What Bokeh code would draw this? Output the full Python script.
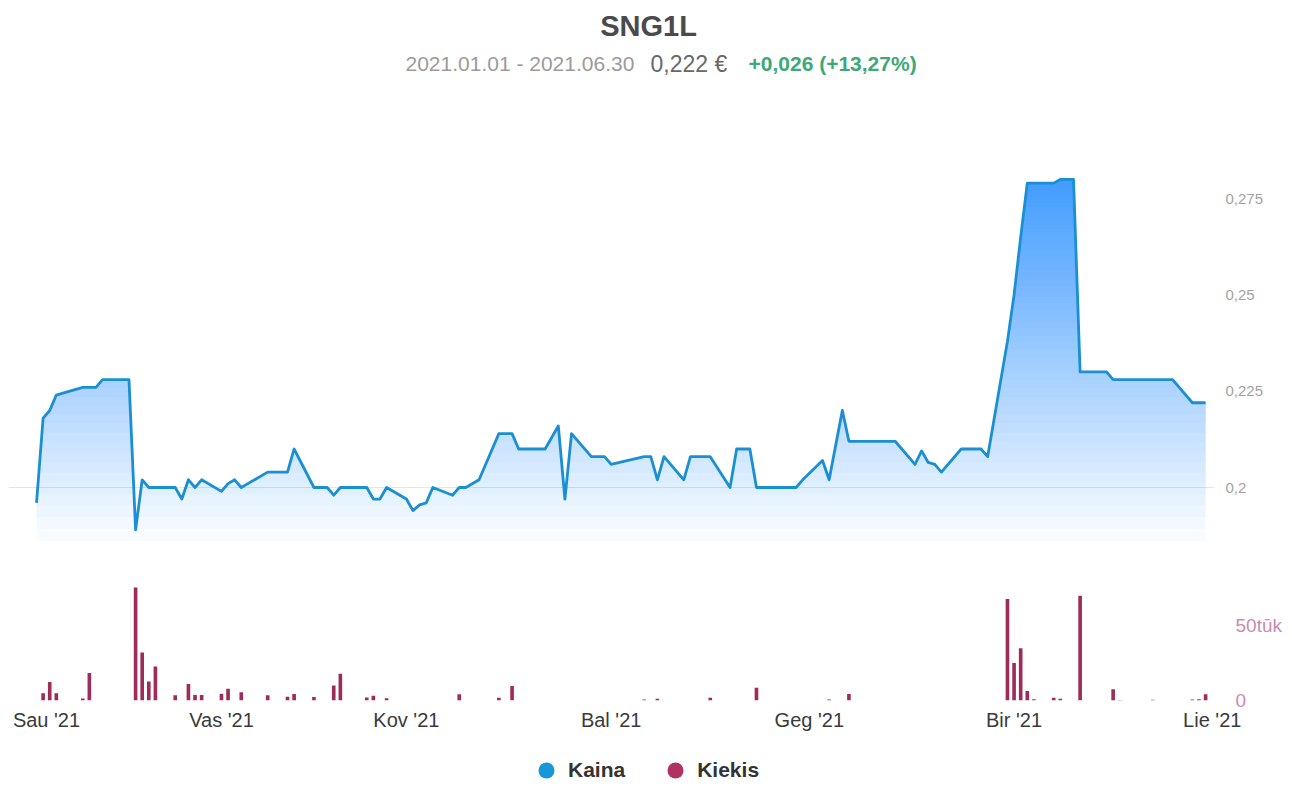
import pandas as pd
from bokeh.plotting import figure
from bokeh.layouts import column
from bokeh.models import Range1d, FixedTicker, Label, Legend, LegendItem
from bokeh.embed import file_html
from bokeh.resources import INLINE

# ---------------- data ----------------
title_text = "SNG1L"
period_text = "2021.01.01 - 2021.06.30"
last_price_text = "0,222 €"
change_text = "+0,026 (+13,27%)"

price_dates = [
    "2021-01-04", "2021-01-05", "2021-01-06", "2021-01-07", "2021-01-08",
    "2021-01-11", "2021-01-12", "2021-01-13", "2021-01-14", "2021-01-15",
    "2021-01-18", "2021-01-19", "2021-01-20", "2021-01-21", "2021-01-22",
    "2021-01-25", "2021-01-26", "2021-01-27", "2021-01-28", "2021-01-29",
    "2021-02-01", "2021-02-02", "2021-02-03", "2021-02-04", "2021-02-05",
    "2021-02-08", "2021-02-09", "2021-02-10", "2021-02-11", "2021-02-12",
    "2021-02-15", "2021-02-17", "2021-02-18", "2021-02-19",
    "2021-02-22", "2021-02-23", "2021-02-24", "2021-02-25", "2021-02-26",
    "2021-03-01", "2021-03-02", "2021-03-03", "2021-03-04", "2021-03-05",
    "2021-03-08", "2021-03-09", "2021-03-10", "2021-03-12",
    "2021-03-15", "2021-03-16", "2021-03-17", "2021-03-18", "2021-03-19",
    "2021-03-22", "2021-03-23", "2021-03-24", "2021-03-25", "2021-03-26",
    "2021-03-29", "2021-03-30", "2021-03-31", "2021-04-01",
    "2021-04-06", "2021-04-07", "2021-04-08", "2021-04-09",
    "2021-04-12", "2021-04-13", "2021-04-14", "2021-04-15", "2021-04-16",
    "2021-04-19", "2021-04-20", "2021-04-21", "2021-04-22", "2021-04-23",
    "2021-04-26", "2021-04-27", "2021-04-28", "2021-04-29", "2021-04-30",
    "2021-05-03", "2021-05-04", "2021-05-05", "2021-05-06", "2021-05-07",
    "2021-05-10", "2021-05-11", "2021-05-12", "2021-05-13", "2021-05-14",
    "2021-05-17", "2021-05-18", "2021-05-19", "2021-05-20", "2021-05-21",
    "2021-05-24", "2021-05-25", "2021-05-26", "2021-05-27", "2021-05-28",
    "2021-05-31", "2021-06-01", "2021-06-02", "2021-06-03", "2021-06-04",
    "2021-06-07", "2021-06-08", "2021-06-09", "2021-06-10", "2021-06-11",
    "2021-06-14", "2021-06-15", "2021-06-16", "2021-06-17", "2021-06-18",
    "2021-06-21", "2021-06-22", "2021-06-23", "2021-06-25",
    "2021-06-28", "2021-06-29", "2021-06-30",
]
price = [
    0.196, 0.218, 0.220, 0.224, 0.2245,
    0.226, 0.226, 0.226, 0.228, 0.228,
    0.228, 0.189, 0.202, 0.200, 0.200,
    0.200, 0.197, 0.202, 0.200, 0.202,
    0.199, 0.201, 0.202, 0.200, 0.201,
    0.204, 0.204, 0.204, 0.204, 0.210,
    0.200, 0.200, 0.198, 0.200,
    0.200, 0.200, 0.197, 0.197, 0.200,
    0.197, 0.194, 0.1955, 0.196, 0.200,
    0.198, 0.200, 0.200, 0.202,
    0.214, 0.214, 0.214, 0.210, 0.210,
    0.210, 0.213, 0.216, 0.197, 0.214,
    0.208, 0.208, 0.208, 0.206,
    0.208, 0.208, 0.202, 0.208,
    0.202, 0.208, 0.208, 0.208, 0.208,
    0.200, 0.210, 0.210, 0.210, 0.200,
    0.200, 0.200, 0.200, 0.200, 0.202,
    0.207, 0.202, 0.211, 0.220, 0.212,
    0.212, 0.212, 0.212, 0.212, 0.212,
    0.206, 0.2095, 0.2065, 0.206, 0.204,
    0.210, 0.210, 0.210, 0.210, 0.208,
    0.238, 0.250, 0.265, 0.279, 0.279,
    0.279, 0.280, 0.280, 0.280, 0.230,
    0.230, 0.230, 0.228, 0.228, 0.228,
    0.228, 0.228, 0.228, 0.228,
    0.222, 0.222, 0.222,
]

volume_dates = [
    "2021-01-05", "2021-01-06", "2021-01-07", "2021-01-11", "2021-01-12",
    "2021-01-19", "2021-01-20", "2021-01-21", "2021-01-22", "2021-01-25",
    "2021-01-27", "2021-01-28", "2021-01-29", "2021-02-01", "2021-02-02",
    "2021-02-04", "2021-02-08", "2021-02-11", "2021-02-12", "2021-02-15",
    "2021-02-18", "2021-02-19", "2021-02-23", "2021-02-24", "2021-02-26",
    "2021-03-09", "2021-03-15", "2021-03-17", "2021-04-06", "2021-04-08",
    "2021-04-16", "2021-04-23", "2021-05-04", "2021-05-07", "2021-05-31",
    "2021-06-01", "2021-06-02", "2021-06-03", "2021-06-04", "2021-06-07",
    "2021-06-08", "2021-06-11", "2021-06-16", "2021-06-17", "2021-06-22",
    "2021-06-28", "2021-06-29", "2021-06-30",
]
volume = [
    4800, 12400, 4900, 1300, 18300,
    75300, 32000, 12700, 22700, 3500,
    11000, 3700, 3700, 4500, 7900,
    5500, 3500, 2500, 4400, 2300,
    10000, 17900, 2000, 3100, 1500,
    4200, 1800, 9700, 700, 1100,
    1900, 8500, 700, 4300, 67600,
    25000, 34800, 6300, 800, 1900,
    1200, 69900, 7500, 400, 500,
    600, 900, 4100,
]

month_starts = ["2021-01-01", "2021-02-01", "2021-03-01", "2021-04-01",
                "2021-05-01", "2021-06-01", "2021-07-01"]
month_labels = ["Sau '21", "Vas '21", "Kov '21", "Bal '21", "Geg '21", "Bir '21", "Lie '21"]
price_ticks = [0.2, 0.225, 0.25, 0.275]
price_tick_labels = ["0,2", "0,225", "0,25", "0,275"]
volume_ticks = [0, 50000]
volume_tick_labels = ["0", "50tūk"]
series_names = ["Kaina", "Kiekis"]

# ---------------- helpers ----------------
T0 = pd.Timestamp("2021-01-01")


def to_days(dates):
    return [float((pd.Timestamp(d) - T0).days) for d in dates]


def clip_above(xs, ys, t):
    """Outline of max(y, t) along the price line, with crossing points added."""
    ox, oy = [], []
    for i in range(len(xs)):
        if i > 0:
            y0, y1 = ys[i - 1], ys[i]
            if (y0 - t) * (y1 - t) < 0:
                f = (t - y0) / (y1 - y0)
                ox.append(xs[i - 1] + f * (xs[i] - xs[i - 1]))
                oy.append(t)
        ox.append(xs[i])
        oy.append(max(ys[i], t))
    return ox, oy


FONT = "Liberation Sans"
LINE_BLUE = "#1a8fd3"
FILL_BLUE = "#2a9cf0"
VOL_RED = "#9e2c5b"

W = 1290
LEFT, RIGHT = 8, 76            # frame spans page x 8 .. 1214
PX_PER_DAY = 6.605
x_range = Range1d(-1.2415, 181.345)

px = to_days(price_dates)
vx = to_days(volume_dates)

# ---------------- header ----------------
HEAD_H = 93
head = figure(width=W, height=HEAD_H, x_range=Range1d(LEFT, W - RIGHT), y_range=Range1d(0, HEAD_H),
              output_backend="svg", toolbar_location=None,
              x_axis_location=None, y_axis_location=None,
              min_border_left=LEFT, min_border_right=RIGHT, min_border_top=0, min_border_bottom=0,
              outline_line_color=None)
head.grid.visible = False
head.add_layout(Label(x=648, y=HEAD_H - 25, text=title_text, text_align="center",
                      text_baseline="middle", text_font=FONT, text_font_size="29px",
                      text_font_style="bold", text_color="#4a4a4a"))
head.add_layout(Label(x=405, y=HEAD_H - 63, text=period_text, text_align="left",
                      text_baseline="middle", text_font=FONT, text_font_size="21px",
                      text_color="#9b9b9b"))
head.add_layout(Label(x=650, y=HEAD_H - 63, text=last_price_text, text_align="left",
                      text_baseline="middle", text_font=FONT, text_font_size="23px",
                      text_color="#686868"))
head.add_layout(Label(x=748, y=HEAD_H - 63, text=change_text, text_align="left",
                      text_baseline="middle", text_font=FONT, text_font_size="21px",
                      text_font_style="bold", text_color="#3da878"))

# ---------------- price pane ----------------
pp = figure(width=W, height=467, x_range=x_range, y_range=Range1d(0.18105, 0.30099),
            output_backend="svg", toolbar_location=None,
            x_axis_location=None, y_axis_location="right",
            min_border_left=LEFT, min_border_right=RIGHT, min_border_top=5, min_border_bottom=0,
            outline_line_color=None)
pp.xgrid.visible = False
pp.ygrid.ticker = FixedTicker(ticks=[0.2])
pp.ygrid.grid_line_color = "#e0e6ee"

# vertical gradient under the line, built from stacked translucent layers
K, A = 60, 0.80
v0, vtop = 0.186, max(price) + 0.002
a = 1 - (1 - A) ** (1 / K)
for k in range(K):
    t = v0 + (vtop - v0) * (1 - (1 - a) ** k) / A
    ox, oy = clip_above(px, price, t)
    pp.varea(x=ox, y1=t, y2=oy, fill_color=FILL_BLUE, fill_alpha=a)

pp.line(px, price, line_color=LINE_BLUE, line_width=2.8, line_join="round")

ya = pp.yaxis[0]
ya.ticker = FixedTicker(ticks=price_ticks, minor_ticks=[])
ya.major_label_overrides = dict(zip(price_ticks, price_tick_labels))
ya.axis_line_color = None
ya.major_tick_line_color = None
ya.major_tick_out = 0
ya.minor_tick_line_color = None
ya.major_label_standoff = 11
ya.major_label_text_font = FONT
ya.major_label_text_font_size = "15px"
ya.major_label_text_color = "#a3a3a3"

# ---------------- volume pane ----------------
vp = figure(width=W, height=175, x_range=x_range, y_range=Range1d(0, 86667),
            output_backend="svg", toolbar_location=None,
            x_axis_location="below", y_axis_location="right",
            min_border_left=LEFT, min_border_right=RIGHT, min_border_top=10, min_border_bottom=35,
            outline_line_color=None)
vp.xgrid.visible = False
vp.ygrid.ticker = FixedTicker(ticks=[0])
vp.ygrid.grid_line_color = "#e3e8ee"

vp.vbar(x=vx, top=volume, width=0.55, fill_color=VOL_RED, line_color=None)

xticks = to_days(month_starts)
# the first month label is pushed inside the plot edge, as in the original
xticks[0] = x_range.start + 38 / PX_PER_DAY
xa = vp.xaxis[0]
xa.ticker = FixedTicker(ticks=xticks, minor_ticks=[])
xa.major_label_overrides = dict(zip(xticks, month_labels))
xa.axis_line_color = None
xa.major_tick_line_color = None
xa.major_tick_out = 0
xa.minor_tick_line_color = None
xa.major_label_standoff = 8
xa.major_label_text_font = FONT
xa.major_label_text_font_size = "20px"
xa.major_label_text_color = "#3a3a3a"

yv = vp.yaxis[0]
yv.ticker = FixedTicker(ticks=volume_ticks, minor_ticks=[])
yv.major_label_overrides = dict(zip(volume_ticks, volume_tick_labels))
yv.axis_line_color = None
yv.major_tick_line_color = None
yv.major_tick_out = 0
yv.minor_tick_line_color = None
yv.major_label_standoff = 21
yv.major_label_text_font = FONT
yv.major_label_text_font_size = "19px"
yv.major_label_text_color = "#c98bb0"

# ---------------- legend strip ----------------
# same x scale; the y range lies below every value, so these legend proxies draw nothing
lg = figure(width=W, height=55, x_range=x_range, y_range=Range1d(-2, -1),
            output_backend="svg", toolbar_location=None,
            x_axis_location=None, y_axis_location=None,
            min_border_left=LEFT, min_border_right=RIGHT, min_border_top=0, min_border_bottom=0,
            outline_line_color=None)
lg.grid.visible = False
k_r = lg.scatter(x=px, y=price, marker="circle", size=18, fill_color="#1996d8", line_color=None)
q_r = lg.scatter(x=vx, y=volume, marker="circle", size=18, fill_color="#b03262", line_color=None)
legend = Legend(items=[LegendItem(label=series_names[0], renderers=[k_r]),
                       LegendItem(label=series_names[1], renderers=[q_r])],
                orientation="horizontal", location=(518, 0),
                glyph_width=40, glyph_height=40, label_standoff=2, spacing=30,
                padding=0, margin=0, border_line_color=None, background_fill_alpha=0,
                label_text_font=FONT, label_text_font_size="21px",
                label_text_font_style="bold", label_text_color="#333333")
lg.add_layout(legend, "center")

layout = column(head, pp, vp, lg, spacing=0)
open("out.html", "w").write(file_html(layout, INLINE))
